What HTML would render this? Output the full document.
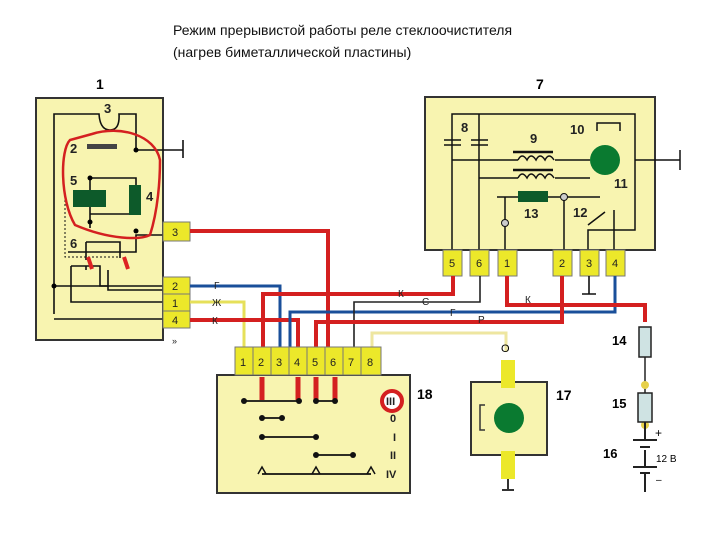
<!DOCTYPE html>
<html><head><meta charset="utf-8"><style>
body{margin:0;width:720px;height:540px;background:#fff;overflow:hidden}
svg{display:block}
text{font-family:"Liberation Sans",sans-serif}
</style></head><body>
<svg width="720" height="540" viewBox="0 0 720 540">
<text x="173" y="35" font-size="14" fill="#111">Режим прерывистой работы реле стеклоочистителя</text>
<text x="173" y="57" font-size="14" fill="#111">(нагрев биметаллической пластины)</text>

<!-- Block 1 -->
<text x="96" y="89" font-size="14" font-weight="bold">1</text>
<rect x="36" y="98" width="127" height="242" fill="#f8f4b0" stroke="#333" stroke-width="2"/>
<g stroke="#111" stroke-width="1.6" fill="none">
<path d="M54 314 V114 H99 Q100 130 110 130 Q120 130 119 114 H136 V150 H183"/>
<line x1="183" y1="140" x2="183" y2="158"/>
<path d="M90 180 V228 M90 178 H136 V214 H90"/>
<path d="M68 252 H136 V235 H163"/>
<path d="M86 242 H120 V258 M86 242 V260"/>
<path d="M71 266 H100 V286 H108 M86 266 V270"/>
<path d="M108 270 V290 H163 M54 286 H163 M71 266 V302 H163 M54 319 H163"/>
<path d="M65 200 V257 H120" stroke-dasharray="2,2" stroke-width="1"/>
</g>
<rect x="87" y="144" width="30" height="5" fill="#444"/>
<rect x="73" y="190" width="33" height="17" fill="#0d5a2a"/>
<rect x="129" y="185" width="12" height="30" fill="#0d5a2a"/>
<path d="M88 257 l4 12 M124 257 l4 12" stroke="#d22" stroke-width="4"/>
<circle cx="136" cy="150" r="2.5"/><circle cx="90" cy="178" r="2.5"/><circle cx="90" cy="222" r="2.5"/><circle cx="136" cy="231" r="2.5"/><circle cx="54" cy="286" r="2.5"/>
<g font-size="13" font-weight="bold" fill="#222"><text x="104" y="113">3</text><text x="70" y="153">2</text><text x="70" y="185">5</text><text x="146" y="201">4</text><text x="70" y="248">6</text></g>
<path d="M92 134 C120 125 155 135 160 160 C160 180 158 210 150 235 C140 240 110 240 75 225 C60 200 60 150 70 140 Z" fill="none" stroke="#d42020" stroke-width="2.5"/>
<g fill="#ece82a" stroke="#777" stroke-width="1">
<rect x="163" y="222" width="27" height="19"/><rect x="163" y="277" width="27" height="17"/><rect x="163" y="294" width="27" height="17"/><rect x="163" y="311" width="27" height="17"/>
</g>
<g font-size="11" fill="#222"><text x="172" y="236">3</text><text x="172" y="290">2</text><text x="172" y="307">1</text><text x="172" y="324">4</text><text x="172" y="344" font-size="9">»</text></g>

<!-- Block 7 -->
<text x="536" y="89" font-size="14" font-weight="bold">7</text>
<rect x="425" y="97" width="230" height="153" fill="#f8f4b0" stroke="#333" stroke-width="2"/>
<g stroke="#111" stroke-width="1.5" fill="none">
<path d="M452 250 V114 H635 V160 M479 250 V114"/>
<path d="M444 140 H461 M444 145 H461 M471 140 H488 M471 145 H488"/>
<path d="M452 160 H518 M555 160 H590 M479 178 H518 M555 178 H590"/>
<path d="M635 160 H680 M680 150 V170 M635 160 V230 H588 V250"/>
<path d="M497 197 H560 M567 197 H600 M564 197 V250 M505 197 V250"/>
<path d="M588 225 L605 212 M614 210 V250"/>
<path d="M597 131 V123 H620 V131"/>
</g>
<path d="M518 160 q4 -8 9 0 q4 -8 9 0 q4 -8 9 0 q4 -8 9 0 M518 178 q4 -8 9 0 q4 -8 9 0 q4 -8 9 0 q4 -8 9 0" stroke="#111" stroke-width="1.5" fill="none"/>
<path d="M513 152 H553 M513 170 H553" stroke="#111" stroke-width="2.5"/>
<circle cx="605" cy="160" r="15" fill="#0a7a30"/>
<rect x="518" y="191" width="30" height="11" fill="#0d5a2a"/>
<circle cx="564" cy="197" r="3.5" fill="#ccc" stroke="#111"/><circle cx="505" cy="223" r="3.5" fill="#ccc" stroke="#111"/>
<g font-size="13" font-weight="bold" fill="#222"><text x="461" y="132">8</text><text x="530" y="143">9</text><text x="570" y="134">10</text><text x="614" y="188">11</text><text x="524" y="218">13</text><text x="573" y="217">12</text></g>
<g fill="#ece82a" stroke="#777" stroke-width="1">
<rect x="443" y="250" width="19" height="26"/><rect x="470" y="250" width="19" height="26"/><rect x="498" y="250" width="19" height="26"/><rect x="553" y="250" width="19" height="26"/><rect x="580" y="250" width="19" height="26"/><rect x="606" y="250" width="19" height="26"/>
</g>
<g font-size="11" fill="#222"><text x="449" y="267">5</text><text x="476" y="267">6</text><text x="504" y="267">1</text><text x="559" y="267">2</text><text x="586" y="267">3</text><text x="612" y="267">4</text></g>
<path d="M589 276 V294 M582 294 H596" stroke="#111" stroke-width="1.6"/>

<!-- Wires -->
<g fill="none" stroke-width="4">
<path d="M190 231 H328 V350" stroke="#d42020"/>
<path d="M190 286 H280 V350" stroke="#1a4f9a" stroke-width="3"/>
<path d="M190 302 H244 V350" stroke="#e6e05a" stroke-width="3"/>
<path d="M190 320 H298 V350" stroke="#d42020"/>
<path d="M453 276 V294 H263 V350" stroke="#d42020"/>
<path d="M615 276 V312 H290 V350" stroke="#1a4f9a" stroke-width="3"/>
<path d="M480 276 V302 H354 V350" stroke="#222" stroke-width="1.6"/>
<path d="M562 276 V322 H316 V350" stroke="#d42020"/>
<path d="M507 276 V305 H645 V322" stroke="#d42020"/>
<path d="M372 350 V333 H506 V352" stroke="#eee6a0" stroke-width="3"/>
</g>
<g font-size="10" fill="#222"><text x="214" y="289">Г</text><text x="212" y="306">Ж</text><text x="212" y="324">К</text><text x="398" y="297">К</text><text x="422" y="305">С</text><text x="450" y="316">Г</text><text x="478" y="323">Р</text><text x="525" y="303">К</text></g>

<!-- Block 18 -->
<rect x="217" y="375" width="193" height="118" fill="#f8f4b0" stroke="#333" stroke-width="2"/>
<g fill="#ece82a" stroke="#777" stroke-width="1">
<rect x="235" y="347" width="18" height="28"/><rect x="253" y="347" width="18" height="28"/><rect x="271" y="347" width="18" height="28"/><rect x="289" y="347" width="18" height="28"/><rect x="307" y="347" width="18" height="28"/><rect x="325" y="347" width="18" height="28"/><rect x="343" y="347" width="18" height="28"/><rect x="361" y="347" width="20" height="28"/>
</g>
<g font-size="11" fill="#222"><text x="240" y="366">1</text><text x="258" y="366">2</text><text x="276" y="366">3</text><text x="294" y="366">4</text><text x="312" y="366">5</text><text x="330" y="366">6</text><text x="348" y="366">7</text><text x="367" y="366">8</text></g>
<g stroke="#d42020" stroke-width="5"><path d="M262 377 V400 M298 377 V400 M316 377 V400 M335 377 V400"/></g>
<g stroke="#111" stroke-width="1.8"><path d="M244 401 H299 M316 401 H335 M262 418 H282 M262 437 H316 M316 455 H353 M262 474 H371"/></g>
<g fill="#111"><circle cx="244" cy="401" r="3"/><circle cx="299" cy="401" r="3"/><circle cx="316" cy="401" r="3"/><circle cx="335" cy="401" r="3"/><circle cx="262" cy="418" r="3"/><circle cx="282" cy="418" r="3"/><circle cx="262" cy="437" r="3"/><circle cx="316" cy="437" r="3"/><circle cx="316" cy="455" r="3"/><circle cx="353" cy="455" r="3"/></g>
<g fill="none" stroke="#111" stroke-width="1.5"><path d="M258 474 L262 467 L266 474 M312 474 L316 467 L320 474 M367 474 L371 467 L375 474"/></g>
<circle cx="392" cy="401" r="10" fill="#fff" stroke="#d42020" stroke-width="4"/>
<g font-size="11" font-weight="bold" fill="#222"><text x="386" y="405">III</text><text x="390" y="422">0</text><text x="393" y="441">I</text><text x="390" y="459">II</text><text x="386" y="478">IV</text></g>
<text x="417" y="399" font-size="14" font-weight="bold">18</text>

<!-- Block 17 -->
<text x="501" y="352" font-size="11">О</text>
<rect x="471" y="382" width="76" height="73" fill="#f8f4b0" stroke="#333" stroke-width="2"/>
<rect x="501" y="360" width="14" height="28" fill="#ece82a"/><rect x="501" y="451" width="14" height="28" fill="#ece82a"/>
<path d="M508 479 V490 M502 490 H514" stroke="#333" stroke-width="2"/>
<circle cx="509" cy="418" r="15" fill="#0a7a30"/>
<path d="M485 405 H480 V430 H485" stroke="#333" stroke-width="1.5" fill="none"/>
<text x="556" y="400" font-size="14" font-weight="bold">17</text>

<!-- 14,15,16 -->
<rect x="639" y="327" width="12" height="30" fill="#cfe3e3" stroke="#222" stroke-width="1.5"/>
<path d="M645 357 V393" stroke="#222" stroke-width="1.5"/>
<circle cx="645" cy="385" r="4" fill="#e6d04a"/><circle cx="645" cy="425" r="4" fill="#e6d04a"/>
<rect x="638" y="393" width="14" height="29" fill="#cfe3e3" stroke="#222" stroke-width="1.5"/>
<path d="M645 422 V440 M633 440 H657 M640 447 H650 M645 450 V467 M633 467 H657 M640 473 H650 M645 473 V492" stroke="#222" stroke-width="2"/>
<g font-size="13" font-weight="bold"><text x="612" y="345">14</text><text x="612" y="408">15</text><text x="603" y="458">16</text></g>
<text x="655" y="437" font-size="12">+</text><text x="656" y="462" font-size="10">12 В</text><text x="656" y="483" font-size="10">–</text>
</svg>
</body></html>
